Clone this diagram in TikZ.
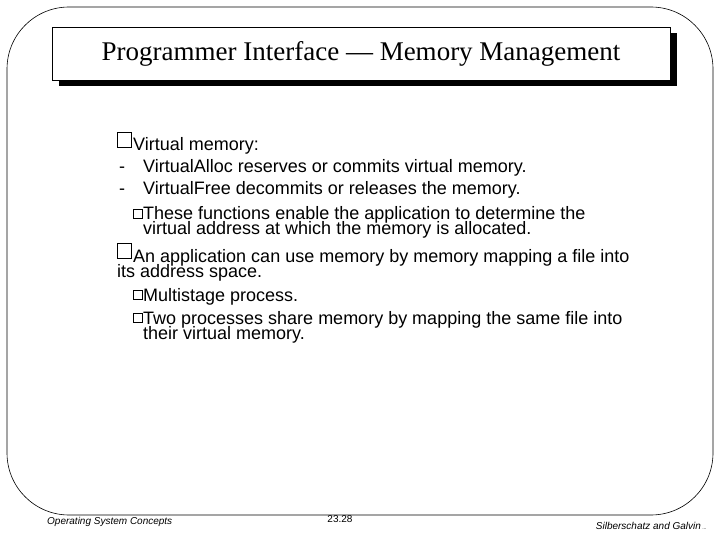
\documentclass[tikz,border=0pt]{standalone}
\usepackage{fontspec}
\setmainfont{Liberation Serif}
\newfontfamily\arial{Liberation Sans}
\begin{document}
\begin{tikzpicture}[x=1pt,y=-1pt,
  body/.style={anchor=base west,inner sep=0pt,font=\arial\fontsize{18}{15}\selectfont},
  foot/.style={inner sep=0pt,font=\arial\itshape\fontsize{10}{11}\selectfont},
  bigsq/.style={draw,line width=0.8pt,minimum width=14pt,minimum height=15pt,inner sep=0pt},
  smallsq/.style={draw,line width=0.5pt,minimum size=9pt,inner sep=0pt}]
\useasboundingbox (0,0) rectangle (720,540);
\fill[white] (0,0) rectangle (720,540);
\draw[line width=0.6pt,rounded corners=62pt] (7,7) rectangle (713,515);
\fill (59,33) rectangle (677,86);
\node[draw,fill=white,line width=0.6pt,minimum width=618pt,minimum height=53pt,inner sep=0pt,
  font=\fontsize{27}{29}\selectfont] (title) at (361,53.5) {Programmer Interface — Memory Management};
\node[bigsq] (s1) at (124,139.5) {};
\node[body] (t1) at (133,151) {Virtual memory:};
\node[body] (d1) at (119,173) {-};
\node[body] (t2) at (143,173) {VirtualAlloc reserves or commits virtual memory.};
\node[body] (d2) at (119,195) {-};
\node[body] (t3) at (143,195) {VirtualFree decommits or releases the memory.};
\node[smallsq] (s2) at (138,214) {};
\node[body] (t4) at (143,220) {These functions enable the application to determine the};
\node[body] (t4b) at (143,235) {virtual address at which the memory is allocated.};
\node[bigsq] (s3) at (124,250.5) {};
\node[body] (t5) at (133,262) {An application can use memory by memory mapping a file into};
\node[body] (t5b) at (117,277) {its address space.};
\node[smallsq] (s4) at (138,295) {};
\node[body] (t6) at (143,301) {Multistage process.};
\node[smallsq] (s5) at (138,318) {};
\node[body] (t7) at (143,324) {Two processes share memory by mapping the same file into};
\node[body] (t7b) at (143,339) {their virtual memory.};
\node[foot,anchor=west] (f1) at (47,522) {Operating System Concepts};
\node[inner sep=0pt,font=\arial\fontsize{10}{11}\selectfont] (f2) at (340,519) {23.28};
\node[foot,anchor=east] (f3) at (707,526) {Silberschatz and Galvin\,\tiny...};
\end{tikzpicture}
\end{document}
